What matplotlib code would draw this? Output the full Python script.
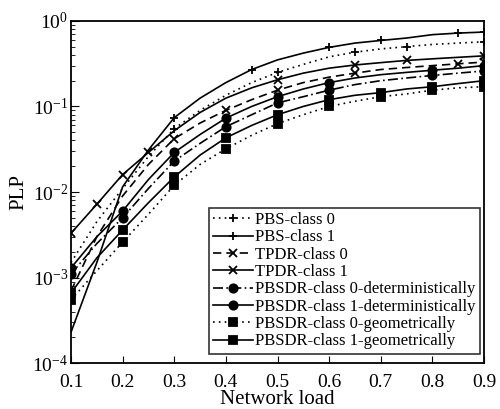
import numpy as np
import matplotlib
matplotlib.use("Agg")
import matplotlib.pyplot as plt

plt.rcParams['font.family'] = ['Liberation Serif', 'DejaVu Serif']
plt.rcParams['mathtext.default'] = 'regular'

# network load
load = [0.1, 0.15, 0.2, 0.25, 0.3, 0.35, 0.4, 0.45, 0.5,
        0.55, 0.6, 0.65, 0.7, 0.75, 0.8, 0.85, 0.9]

# PLP values
pbs_c0 = [1.5e-3, 4.5e-3, 0.011, 0.026, 0.055, 0.09, 0.135, 0.19, 0.25,
          0.31, 0.38, 0.43, 0.47, 0.50, 0.53, 0.55, 0.57]
pbs_c1 = [2.3e-4, 1.5e-3, 0.0115, 0.031, 0.074, 0.125, 0.19, 0.27, 0.35,
          0.42, 0.49, 0.55, 0.59, 0.63, 0.69, 0.72, 0.74]
tpdr_c0 = [7e-4, 3e-3, 0.009, 0.021, 0.042, 0.064, 0.09, 0.12, 0.155,
           0.19, 0.22, 0.245, 0.27, 0.285, 0.30, 0.315, 0.33]
tpdr_c1 = [3.3e-3, 7.2e-3, 0.016, 0.029, 0.052, 0.085, 0.125, 0.165, 0.205,
           0.245, 0.28, 0.305, 0.325, 0.345, 0.36, 0.375, 0.39]
det_c0 = [1.1e-3, 2.5e-3, 5.0e-3, 0.011, 0.023, 0.037, 0.058, 0.08, 0.11,
          0.13, 0.155, 0.18, 0.20, 0.215, 0.23, 0.245, 0.26]
det_c1 = [1.3e-3, 3.0e-3, 6.0e-3, 0.014, 0.029, 0.047, 0.073, 0.10, 0.13,
          0.16, 0.19, 0.215, 0.235, 0.25, 0.265, 0.28, 0.30]
geo_c0 = [5.5e-4, 1.2e-3, 2.6e-3, 5.5e-3, 0.012, 0.021, 0.032, 0.046, 0.063,
          0.08, 0.10, 0.115, 0.13, 0.14, 0.155, 0.165, 0.17]
geo_c1 = [6.6e-4, 1.7e-3, 3.6e-3, 7.5e-3, 0.015, 0.027, 0.043, 0.06, 0.08,
          0.10, 0.12, 0.135, 0.145, 0.16, 0.17, 0.185, 0.20]

series = [
    ('PBS-class 0', pbs_c0, (0, (1, 2.5)), '+', [4, 8, 11, 13, 16]),
    ('PBS-class 1', pbs_c1, '-', '+', [4, 7, 10, 12, 15, 16]),
    ('TPDR-class 0', tpdr_c0, (0, (5, 3)), 'x', [4, 6, 8, 11, 15, 16]),
    ('TPDR-class 1', tpdr_c1, '-', 'x', [0, 1, 2, 3, 8, 11, 13, 16]),
    ('PBSDR-class 0-deterministically', det_c0, (0, (6, 2, 1, 2)), 'o', [0, 2, 4, 6, 8, 10, 14, 16]),
    ('PBSDR-class 1-deterministically', det_c1, '-', 'o', [0, 2, 4, 6, 8, 10, 14, 16]),
    ('PBSDR-class 0-geometrically', geo_c0, (0, (1, 2.5)), 's', [0, 2, 4, 6, 8, 10, 12, 14, 16]),
    ('PBSDR-class 1-geometrically', geo_c1, '-', 's', [0, 2, 4, 6, 8, 10, 12, 14, 16]),
]

fig = plt.figure(figsize=(5, 4.09), dpi=100)
ax = fig.add_axes([0.142, 0.112, 0.826, 0.837])

for label, vals, ls, mk, every in series:
    ax.plot(load, vals, color='black', linestyle=ls, linewidth=1.2,
            marker=mk, markersize=6, markeredgewidth=1.3, markevery=every,
            label=label)

ax.set_yscale('log')
ax.set_xlim(0.1, 0.9)
ax.set_ylim(1e-4, 1)
ax.set_xticks([0.1, 0.2, 0.3, 0.4, 0.5, 0.6, 0.7, 0.8, 0.9])
ax.set_xticklabels(['0.1', '0.2', '0.3', '0.4', '0.5', '0.6', '0.7', '0.8', '0.9'])
ax.tick_params(axis='both', which='both', direction='in', labelsize=14)
ax.tick_params(axis='y', which='major', length=6, pad=2)
ax.tick_params(axis='y', which='minor', length=3)
ax.tick_params(axis='x', which='major', length=5, pad=8)
for s in ax.spines.values():
    s.set_linewidth(1.3)

ax.set_xlabel('Network load', fontsize=15, labelpad=-1)
ax.set_ylabel('PLP', fontsize=15, labelpad=3)

leg = ax.legend(loc='lower right', bbox_to_anchor=(0.99, 0.028), fontsize=12,
                frameon=True, fancybox=False, edgecolor='black',
                handlelength=2.4, handletextpad=0.15, labelspacing=0.08,
                borderpad=0.25, borderaxespad=0)
leg.get_frame().set_linewidth(1.2)

fig.savefig('out.png', dpi=100)
